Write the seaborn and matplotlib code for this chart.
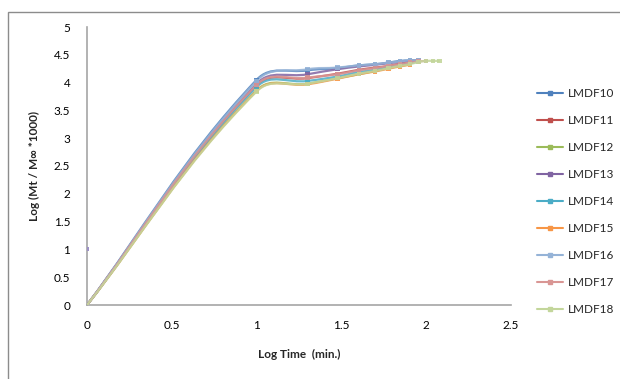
import numpy as np
import pandas as pd
import matplotlib
matplotlib.use("Agg")
import matplotlib.pyplot as plt
from matplotlib.path import Path
from matplotlib.patches import PathPatch, Rectangle
from matplotlib.lines import Line2D
import seaborn as sns

# ---------------- data ----------------
log_time = [0, 1.0, 1.301, 1.477, 1.602, 1.699, 1.778, 1.845, 1.903, 1.954, 2.0, 2.041, 2.079]

series_names = ["LMDF10", "LMDF11", "LMDF12", "LMDF13", "LMDF14",
                "LMDF15", "LMDF16", "LMDF17", "LMDF18"]

LMDF10 = [0, 4.05, 4.22, 4.26, 4.31, 4.33, 4.36, 4.39, 4.40, 4.40]
LMDF11 = [0, 3.95, 4.08, 4.16, 4.23, 4.27, 4.30, 4.34, 4.36, 4.38]
LMDF12 = [0, 3.86, 3.98, 4.08, 4.15, 4.21, 4.26, 4.30, 4.33]
LMDF13 = [0, 3.98, 4.15, 4.24, 4.29, 4.32, 4.35, 4.37, 4.39, 4.40]
LMDF14 = [0, 3.92, 4.03, 4.11, 4.19, 4.23, 4.28, 4.31, 4.35, 4.38]
LMDF15 = [0, 3.85, 3.97, 4.07, 4.15, 4.20, 4.25, 4.29, 4.32]
LMDF16 = [0, 4.03, 4.24, 4.27, 4.31, 4.33, 4.36, 4.38, 4.40, 4.40]
LMDF17 = [0, 3.96, 4.09, 4.15, 4.22, 4.26, 4.30, 4.33, 4.36, 4.38, 4.39]
LMDF18 = [0, 3.84, 3.98, 4.08, 4.16, 4.21, 4.26, 4.30, 4.33, 4.37, 4.39, 4.39, 4.39]

# isolated LMDF13 point on the y axis
stray_x = [0]
stray_y = [1.0]

x_ticks = [0, 0.5, 1, 1.5, 2, 2.5]
y_ticks = [0, 0.5, 1, 1.5, 2, 2.5, 3, 3.5, 4, 4.5, 5]
x_tick_labels = ["0", "0.5", "1", "1.5", "2", "2.5"]
y_tick_labels = ["0", "0.5", "1", "1.5", "2", "2.5", "3", "3.5", "4", "4.5", "5"]

colors = ["#4F81BD", "#C0504D", "#9BBB59", "#8064A2", "#4BACC6",
          "#F79646", "#95B3D7", "#D99694", "#C3D69B"]

values = [LMDF10, LMDF11, LMDF12, LMDF13, LMDF14, LMDF15, LMDF16, LMDF17, LMDF18]

rows = []
for name, vals in zip(series_names, values):
    for xv, yv in zip(log_time, vals):
        rows.append({"series": name, "x": xv, "y": yv})
df = pd.DataFrame(rows)

# ---------------- figure ----------------
sns.set_theme(style="white")
plt.rcParams["font.family"] = ["Lato", "DejaVu Sans"]

fig = plt.figure(figsize=(6.2, 3.79), dpi=100)
ax = fig.add_axes([87 / 620, 1 - 305 / 379, (511 - 87) / 620, (305 - 27) / 379])
ax.set_xlim(0, 2.5)
ax.set_ylim(0, 5)

# outer chart border
fig.patches.append(Rectangle((8 / 620, -0.1), 1.2, 1 - 12 / 379 + 0.1,
                             transform=fig.transFigure, fill=False,
                             edgecolor="#8c8c8c", linewidth=1.0))

palette = dict(zip(series_names, colors))


def smooth_path(xs, ys, tension=0.6):
    """Excel-like smoothed line: cubic Bezier segments computed in display space."""
    pts = ax.transData.transform(np.column_stack([xs, ys]))
    n = len(pts)
    verts = [pts[0]]
    codes = [Path.MOVETO]
    for i in range(n - 1):
        p1 = pts[i]
        p2 = pts[i + 1]
        d12 = np.hypot(*(p2 - p1))
        if i > 0:
            p0 = pts[i - 1]
            d01 = np.hypot(*(p1 - p0))
            c1 = p1 + tension * (p2 - p0) * d12 / (d01 + d12)
        else:
            c1 = p1 + (p2 - p1) / 3.0
        if i + 2 < n:
            p3 = pts[i + 2]
            d23 = np.hypot(*(p3 - p2))
            c2 = p2 - tension * (p3 - p1) * d12 / (d12 + d23)
        else:
            c2 = p2 - (p2 - p1) / 3.0
        # keep control handles within the segment length
        for c, p in ((c1, p1), (c2, p2)):
            L = np.hypot(*(c - p))
            if L > 0.4 * d12:
                c[:] = p + (c - p) * (0.4 * d12 / L)
        verts += [c1, c2, p2]
        codes += [Path.CURVE4, Path.CURVE4, Path.CURVE4]
    verts = ax.transData.inverted().transform(np.array(verts))
    return Path(verts, codes)


for name, vals in zip(series_names, values):
    xs = log_time[:len(vals)]
    path = smooth_path(xs, vals)
    ax.add_patch(PathPatch(path, facecolor="none", edgecolor=palette[name],
                           linewidth=1.6, alpha=0.85, zorder=2))

sns.scatterplot(data=df, x="x", y="y", hue="series", palette=palette,
                marker="s", s=10, linewidth=0, alpha=0.9, legend=False,
                ax=ax, zorder=3)
ax.scatter(stray_x, stray_y, marker="s", s=10, color="#9d91c6", linewidth=0, zorder=3)

# axes style
for side in ["top", "right"]:
    ax.spines[side].set_visible(False)
for side in ["left", "bottom"]:
    ax.spines[side].set_color("#a6a6a6")
    ax.spines[side].set_linewidth(1.2)

ax.set_xticks(x_ticks)
ax.set_xticklabels(x_tick_labels)
ax.set_yticks(y_ticks)
ax.set_yticklabels(y_tick_labels)
ax.tick_params(axis="both", length=0, labelsize=8.5, colors="#000000")
ax.tick_params(axis="x", pad=11)
ax.tick_params(axis="y", pad=12)
ax.grid(False)

ax.set_xlabel("Log Time  (min.)", fontsize=8.5, fontweight="bold", labelpad=13)
ax.set_ylabel("Log (Mt / M\u221e *1000)", fontsize=8.5, fontweight="bold", labelpad=10)

# legend
handles = [Line2D([0], [0], color=c, lw=1.5, marker="s", markersize=2.5) for c in colors]
fig.legend(handles, series_names, loc="upper left",
           bbox_to_anchor=(537 / 620, 1 - 88 / 379), frameon=False,
           fontsize=8.5, handlelength=2.2, handletextpad=0.4, labelspacing=1.36,
           borderaxespad=0, borderpad=0)

fig.savefig("out.png", dpi=100)
